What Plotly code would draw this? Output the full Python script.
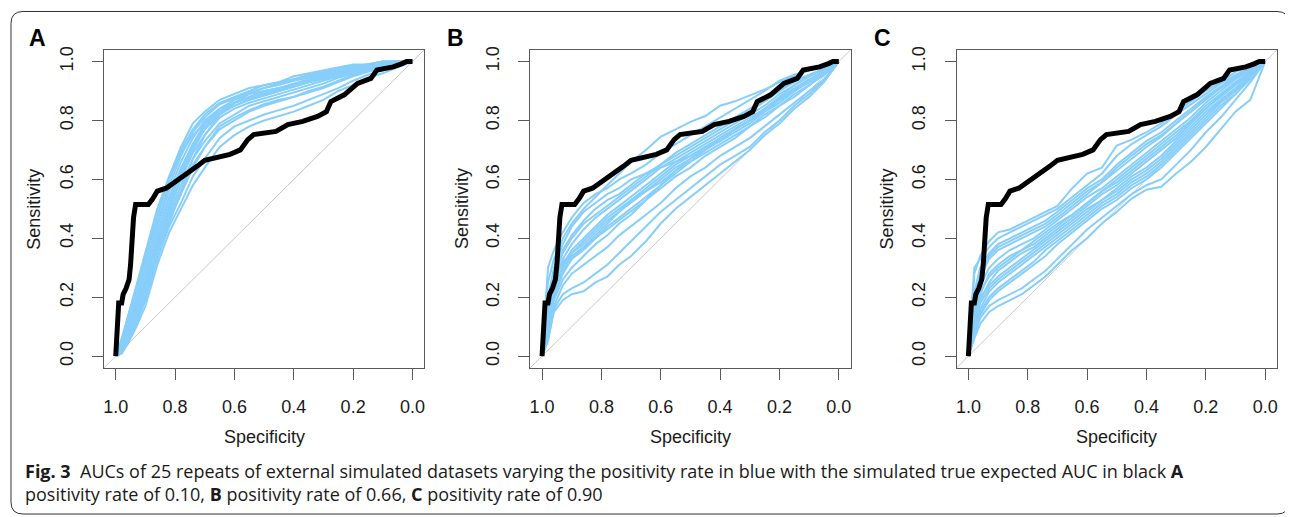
import plotly.graph_objects as go

# ---------------- data ----------------
SPEC_GRID = [1.0, 0.98, 0.96, 0.93, 0.90, 0.86, 0.82, 0.78, 0.74, 0.70, 0.65, 0.60,
             0.55, 0.50, 0.45, 0.40, 0.35, 0.30, 0.25, 0.20, 0.15, 0.10, 0.05, 0.0]

# black "true expected" ROC curve (same in all panels)
TRUE_SPEC = [1.0, 0.995, 0.99, 0.98, 0.975, 0.965, 0.955, 0.95, 0.945, 0.94, 0.933, 0.89,
             0.875, 0.86, 0.83, 0.815, 0.79, 0.76, 0.725, 0.70, 0.66, 0.615, 0.58, 0.555,
             0.535, 0.46, 0.42, 0.37, 0.32, 0.29, 0.275, 0.23, 0.185, 0.14, 0.12, 0.065,
             0.035, 0.02, 0.0]
TRUE_SENS = [0.0, 0.07, 0.18, 0.18, 0.21, 0.23, 0.26, 0.31, 0.40, 0.47, 0.515, 0.515,
             0.535, 0.56, 0.57, 0.58, 0.60, 0.62, 0.645, 0.665, 0.673, 0.685, 0.70, 0.735,
             0.752, 0.763, 0.786, 0.797, 0.814, 0.83, 0.864, 0.887, 0.926, 0.943, 0.971, 0.982,
             0.993, 1.0, 1.0]

# Panel A: positivity rate 0.10
SENS_A = [
    [0, .06, .13, .24, .35, .50, .61, .71, .79, .83, .87, .89, .91, .92, .93, .95, .96, .97, .98, .99, .99, 1, 1, 1],
    [0, .05, .12, .22, .33, .47, .60, .70, .77, .82, .86, .88, .90, .92, .93, .94, .95, .96, .975, .985, .99, 1, 1, 1],
    [0, .05, .13, .23, .34, .49, .60, .69, .75, .79, .83, .85, .87, .885, .90, .915, .93, .945, .96, .975, .985, .99, 1, 1],
    [0, .04, .10, .19, .30, .44, .56, .66, .74, .80, .84, .86, .88, .90, .91, .925, .94, .955, .97, .98, .99, .995, 1, 1],
    [0, .03, .09, .18, .28, .42, .54, .64, .72, .78, .83, .86, .875, .89, .905, .92, .935, .95, .965, .975, .985, .99, 1, 1],
    [0, .02, .06, .14, .23, .38, .51, .63, .72, .79, .84, .87, .89, .90, .91, .92, .93, .945, .96, .97, .98, .99, 1, 1],
    [0, .02, .07, .16, .25, .39, .50, .60, .69, .75, .81, .84, .86, .875, .89, .905, .92, .935, .95, .965, .98, .99, .995, 1],
    [0, .02, .07, .15, .24, .37, .48, .58, .67, .73, .79, .82, .85, .865, .88, .895, .91, .925, .945, .96, .975, .985, .99, 1],
    [0, .02, .06, .14, .22, .36, .47, .56, .65, .71, .78, .81, .835, .855, .87, .88, .90, .915, .935, .955, .97, .98, .99, 1],
    [0, .01, .05, .12, .20, .33, .45, .56, .67, .75, .82, .86, .89, .91, .925, .94, .955, .965, .975, .985, .99, 1, 1, 1],
    [0, .01, .05, .11, .19, .33, .44, .52, .61, .67, .74, .78, .80, .82, .835, .85, .87, .89, .91, .935, .955, .97, .985, 1],
    [0, .01, .04, .10, .17, .31, .42, .50, .58, .64, .71, .75, .78, .80, .815, .83, .85, .87, .90, .92, .945, .96, .98, 1],
    [0, .03, .10, .20, .31, .45, .58, .68, .76, .81, .855, .875, .895, .91, .92, .935, .945, .96, .97, .98, .99, .995, 1, 1],
    [0, .02, .08, .17, .26, .40, .53, .62, .71, .77, .82, .85, .87, .885, .90, .915, .93, .94, .955, .97, .98, .99, 1, 1],
    [0, .01, .06, .13, .21, .35, .46, .55, .64, .71, .77, .80, .83, .85, .865, .88, .895, .91, .93, .95, .965, .98, .99, 1],
    [0, .03, .08, .15, .23, .36, .49, .61, .70, .77, .83, .86, .88, .895, .905, .92, .935, .95, .96, .975, .985, .99, 1, 1],
]

# Panel B: positivity rate 0.66
SENS_B = [
    [0, .25, .33, .40, .45, .50, .54, .58, .62, .66, .70, .745, .77, .795, .815, .85, .865, .885, .905, .93, .95, .97, .985, 1],
    [0, .30, .36, .42, .47, .52, .55, .57, .60, .62, .65, .69, .72, .75, .78, .81, .84, .87, .90, .935, .955, .97, .985, 1],
    [0, .20, .30, .38, .44, .49, .52, .55, .57, .60, .62, .64, .66, .68, .71, .73, .77, .80, .84, .88, .92, .95, .975, 1],
    [0, .15, .28, .36, .41, .46, .50, .53, .55, .58, .62, .65, .68, .71, .74, .77, .80, .83, .865, .90, .935, .955, .975, 1],
    [0, .12, .25, .33, .38, .43, .47, .50, .53, .56, .60, .64, .67, .70, .73, .76, .79, .82, .85, .89, .92, .95, .97, 1],
    [0, .10, .22, .31, .36, .40, .44, .48, .51, .54, .58, .62, .66, .69, .72, .75, .78, .81, .84, .875, .91, .94, .965, 1],
    [0, .14, .26, .32, .35, .38, .42, .46, .49, .52, .56, .60, .64, .67, .71, .74, .77, .80, .83, .86, .90, .93, .96, 1],
    [0, .08, .20, .28, .33, .36, .40, .44, .47, .50, .54, .58, .62, .66, .69, .72, .75, .78, .82, .85, .89, .92, .955, 1],
    [0, .10, .19, .26, .30, .34, .38, .41, .45, .48, .53, .58, .63, .67, .70, .74, .77, .80, .83, .87, .90, .93, .96, 1],
    [0, .07, .17, .24, .28, .31, .34, .37, .41, .44, .48, .52, .57, .61, .64, .68, .71, .74, .78, .82, .86, .90, .94, 1],
    [0, .05, .16, .21, .23, .25, .28, .31, .35, .39, .44, .49, .53, .57, .61, .65, .68, .71, .76, .80, .85, .89, .935, 1],
    [0, .06, .15, .19, .21, .22, .25, .27, .31, .34, .39, .45, .50, .54, .58, .62, .66, .70, .75, .79, .84, .88, .93, 1],
    [0, .18, .27, .35, .40, .45, .48, .51, .54, .57, .61, .65, .69, .72, .75, .78, .81, .84, .87, .90, .93, .955, .975, 1],
    [0, .11, .23, .30, .34, .37, .41, .45, .49, .53, .57, .61, .65, .68, .71, .74, .77, .80, .835, .87, .905, .935, .96, 1],
    [0, .09, .21, .29, .33, .37, .40, .43, .46, .49, .53, .57, .61, .64, .68, .71, .74, .78, .81, .85, .88, .92, .955, 1],
    [0, .13, .24, .30, .35, .39, .43, .47, .50, .53, .56, .59, .63, .66, .70, .73, .76, .79, .83, .86, .90, .935, .965, 1],
]

# Panel C: positivity rate 0.90
SENS_C = [
    [0, .28, .34, .39, .42, .43, .45, .47, .49, .51, .57, .62, .64, .715, .735, .76, .79, .83, .865, .90, .93, .965, .985, 1],
    [0, .30, .33, .37, .40, .42, .44, .46, .48, .50, .54, .58, .62, .68, .72, .75, .78, .82, .855, .89, .925, .955, .98, 1],
    [0, .22, .30, .35, .38, .40, .42, .44, .46, .49, .53, .57, .60, .65, .69, .73, .76, .80, .84, .88, .915, .95, .975, 1],
    [0, .18, .27, .33, .36, .38, .40, .42, .44, .47, .51, .55, .59, .63, .67, .71, .745, .79, .83, .87, .91, .945, .97, 1],
    [0, .15, .24, .30, .33, .36, .38, .40, .43, .46, .50, .54, .57, .61, .65, .69, .73, .77, .81, .86, .90, .94, .97, 1],
    [0, .12, .21, .28, .31, .34, .36, .39, .42, .45, .48, .52, .56, .60, .64, .68, .72, .76, .80, .85, .89, .93, .965, 1],
    [0, .10, .19, .25, .29, .32, .35, .37, .40, .43, .47, .51, .55, .58, .62, .66, .70, .74, .79, .84, .88, .92, .96, 1],
    [0, .14, .20, .24, .27, .30, .33, .36, .39, .42, .46, .50, .53, .57, .61, .64, .68, .73, .78, .83, .87, .91, .955, 1],
    [0, .09, .16, .22, .25, .28, .31, .34, .37, .40, .44, .48, .52, .55, .59, .62, .66, .71, .76, .81, .86, .90, .95, 1],
    [0, .08, .14, .19, .22, .25, .28, .31, .34, .38, .42, .46, .50, .53, .57, .60, .64, .69, .74, .79, .84, .89, .94, 1],
    [0, .07, .13, .17, .19, .21, .23, .26, .29, .33, .38, .43, .47, .51, .55, .58, .60, .65, .70, .76, .81, .87, .93, 1],
    [0, .06, .11, .15, .17, .19, .21, .24, .27, .31, .36, .40, .45, .49, .535, .565, .575, .62, .66, .71, .77, .83, .87, 1],
    [0, .20, .28, .34, .37, .39, .41, .43, .45, .48, .52, .56, .59, .64, .68, .72, .75, .79, .83, .875, .91, .945, .975, 1],
    [0, .13, .22, .27, .30, .33, .36, .38, .41, .44, .48, .52, .56, .59, .63, .67, .71, .75, .795, .84, .885, .925, .96, 1],
    [0, .11, .18, .23, .26, .29, .32, .35, .38, .41, .45, .49, .53, .56, .60, .63, .67, .72, .77, .82, .865, .905, .95, 1],
    [0, .09, .15, .20, .23, .26, .29, .32, .36, .39, .43, .47, .51, .54, .58, .61, .65, .70, .75, .80, .85, .89, .945, 1],
]

PANEL_LETTERS = ["A", "B", "C"]
TICK_VALS = [0.0, 0.2, 0.4, 0.6, 0.8, 1.0]
TICK_TEXT = ["0.0", "0.2", "0.4", "0.6", "0.8", "1.0"]
X_TITLE = "Specificity"
Y_TITLE = "Sensitivity"
CAPTION_1 = ("<b>Fig. 3</b>\u00a0\u00a0AUCs of 25 repeats of external simulated datasets varying the "
             "positivity rate in blue with the simulated true expected AUC in black <b>A</b>")
CAPTION_2 = ("positivity rate of 0.10, <b>B</b> positivity rate of 0.66, "
             "<b>C</b> positivity rate of 0.90")

# ---------------- layout helpers ----------------
# the page body has an 8px margin, so the figure is 8px smaller and all
# page-pixel positions are shifted by that margin
OFF = 8
W, H = 1293 - OFF, 517 - OFF


def px(x):
    return (x - OFF) / W


def py(y):
    return 1 - (y - OFF) / H


BOX_X = [(103, 424), (530, 851), (957, 1278)]
BOX_Y = (47, 367)
LETTER_X = [37, 455, 883]
YTITLE_X = [33, 462, 887]

BLUE = "#87CEFA"
AXIS_COLOR = "#5a5a5a"
TEXT_COLOR = "#1a1a1a"
AX_FONT = dict(family="Liberation Sans, Arial, sans-serif", size=18, color=TEXT_COLOR)

fig = go.Figure()
panels = [SENS_A, SENS_B, SENS_C]

for i, curves in enumerate(panels):
    n = i + 1
    xa = "x" if n == 1 else f"x{n}"
    ya = "y" if n == 1 else f"y{n}"
    for s in curves:
        fig.add_trace(go.Scatter(x=SPEC_GRID, y=s, mode="lines", xaxis=xa, yaxis=ya,
                                 line=dict(color=BLUE, width=2), hoverinfo="skip",
                                 showlegend=False))
    fig.add_trace(go.Scatter(x=TRUE_SPEC, y=TRUE_SENS, mode="lines", xaxis=xa, yaxis=ya,
                             line=dict(color="black", width=5), hoverinfo="skip",
                             showlegend=False))
    # diagonal reference line
    fig.add_shape(type="line", xref=f"{xa} domain", yref=f"{ya} domain",
                  x0=0, y0=0, x1=1, y1=1, line=dict(color="#c8c8c8", width=1), layer="below")

    x0, x1 = BOX_X[i]
    axis_common = dict(showline=True, mirror=True, linecolor=AXIS_COLOR, linewidth=1,
                       ticks="outside", ticklen=11, tickcolor=AXIS_COLOR, tickwidth=1,
                       tickvals=TICK_VALS, ticktext=TICK_TEXT, showgrid=False,
                       zeroline=False, tickfont=AX_FONT, ticklabelstandoff=12)
    fig.update_layout(**{
        ("xaxis" if n == 1 else f"xaxis{n}"): dict(
            domain=[px(x0), px(x1)], range=[1.04, -0.04], anchor=ya, **axis_common),
        ("yaxis" if n == 1 else f"yaxis{n}"): dict(
            domain=[py(BOX_Y[1]), py(BOX_Y[0])], range=[-0.04, 1.04], anchor=xa,
            tickangle=-90, **axis_common),
    })
    # axis titles
    fig.add_annotation(text=X_TITLE, xref="paper", yref="paper",
                       x=px((x0 + x1) / 2), y=py(437), showarrow=False,
                       xanchor="center", yanchor="middle", font=AX_FONT)
    fig.add_annotation(text=Y_TITLE, xref="paper", yref="paper",
                       x=px(YTITLE_X[i]), y=py(207), showarrow=False, textangle=-90,
                       xanchor="center", yanchor="middle", font=AX_FONT)
    # panel letter
    fig.add_annotation(text=f"<b>{PANEL_LETTERS[i]}</b>", xref="paper", yref="paper",
                       x=px(LETTER_X[i]), y=py(35), showarrow=False,
                       xanchor="center", yanchor="middle",
                       font=dict(family="Liberation Sans, Arial, sans-serif", size=23,
                                 color="black"))

# caption
CAP_FONT = dict(family="Open Sans, sans-serif", size=18, color=TEXT_COLOR)
fig.add_annotation(text=CAPTION_1, xref="paper", yref="paper", x=px(22), y=py(471),
                   xanchor="left", yanchor="middle", showarrow=False, font=CAP_FONT)
fig.add_annotation(text=CAPTION_2, xref="paper", yref="paper", x=px(22), y=py(494),
                   xanchor="left", yanchor="middle", showarrow=False, font=CAP_FONT)

# rounded outer frame
L, T, R, B, r = 10, 8.5, 1290, 514, 12
path = (f"M {px(L + r)},{py(T)} L {px(R - r)},{py(T)} Q {px(R)},{py(T)} {px(R)},{py(T + r)} "
        f"L {px(R)},{py(B - r)} Q {px(R)},{py(B)} {px(R - r)},{py(B)} "
        f"L {px(L + r)},{py(B)} Q {px(L)},{py(B)} {px(L)},{py(B - r)} "
        f"L {px(L)},{py(T + r)} Q {px(L)},{py(T)} {px(L + r)},{py(T)} Z")
fig.add_shape(type="path", xref="paper", yref="paper", path=path,
              line=dict(color="#333333", width=1))

fig.update_layout(width=W, height=H, autosize=False,
                  margin=dict(l=0, r=0, t=0, b=0),
                  paper_bgcolor="white", plot_bgcolor="white")

fig.write_html("out.html")
